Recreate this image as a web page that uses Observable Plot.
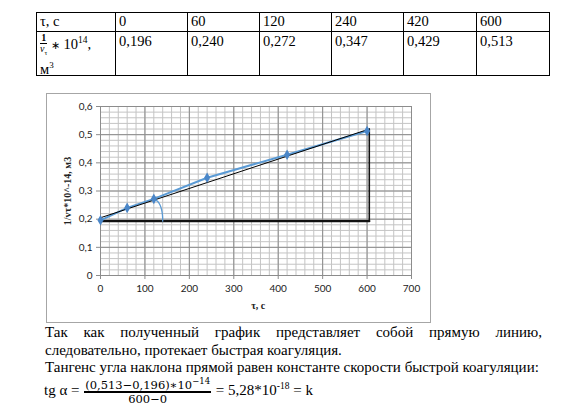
<!DOCTYPE html>
<html><head><meta charset="utf-8">
<script src="https://cdn.jsdelivr.net/npm/d3@7"></script>
<script src="https://cdn.jsdelivr.net/npm/@observablehq/plot@0.6"></script>
<style>
body{margin:0;width:585px;height:405px;background:#fff;position:relative;overflow:hidden;font-family:"Liberation Serif","Times New Roman",serif;color:#000}
table{position:absolute;left:36px;top:12px;border-collapse:collapse;font-size:14.5px;table-layout:fixed}
td{border:1px solid #000;vertical-align:top;padding:0 3px;line-height:16px}
.frac{display:inline-block;vertical-align:middle;text-align:center;font-size:10px;line-height:11px}
.frac .n{border-bottom:1px solid #000;padding:0 1px;font-weight:bold}
#chartbox{position:absolute;left:46px;top:93px;width:383px;height:228px;border:1px solid #a6a6a6}
#text{position:absolute;left:45px;top:324px;width:497px;font-size:15px;line-height:17.5px;text-align:justify}
#formula{position:absolute;left:44px;top:378px;height:24px;font-size:15px;white-space:pre;display:flex;align-items:center}
.ff{display:flex;flex-direction:column;align-items:center;font-family:"DejaVu Serif",serif;font-size:11.5px;margin:0 1px}
.ff .n{border-bottom:2px solid #000;padding:0 1px;line-height:14px}
.ff .d{line-height:13px}
</style></head>
<body>
<table>
<colgroup><col style="width:79px"><col style="width:72px"><col style="width:72px"><col style="width:72px"><col style="width:72px"><col style="width:73px"><col style="width:73px"></colgroup>
<tr id="r1" style="height:19px"></tr>
<tr id="r2" style="height:44px"></tr>
</table>
<div id="chartbox"></div>
<div id="text">Так как полученный график представляет собой прямую линию, следовательно, протекает быстрая коагуляция.<br>Тангенс угла наклона прямой равен константе скорости быстрой коагуляции:</div>
<div id="formula"><span>tg α = </span><span class="ff"><span class="n">(0,513−0,196)∗10<sup style="font-size:8.5px">−14</sup></span><span class="d">600−0</span></span><span> = 5,28*10<sup style="font-size:9.5px">-18</sup> = k</span></div>
<script>
// Data
const times = [0, 60, 120, 240, 420, 600];
const invV = [0.196, 0.240, 0.272, 0.347, 0.429, 0.513];
const invVLabels = ["0,196", "0,240", "0,272", "0,347", "0,429", "0,513"];
const xTicks = [0, 100, 200, 300, 400, 500, 600, 700];
const yTicks = [0, 0.1, 0.2, 0.3, 0.4, 0.5, 0.6];
const xTitle = "τ, с";
const yTitle = "1/vτ*10^-14, м3";
// Hand-drawn annotations (data units)
const trendX = [0, 605];
const trendY = [0.205, 0.52];
const baseX = [0, 605];
const baseY = [0.193, 0.193];
const vertX = [605, 605];
const vertY = [0.193, 0.52];
const arcX = [118, 129, 134, 137.5, 139.5, 140];
const arcY = [0.274, 0.263, 0.25, 0.234, 0.214, 0.193];

// Table
const r1 = document.getElementById("r1");
const r2 = document.getElementById("r2");
r1.innerHTML = "<td>τ, с</td>" + times.map(t => `<td>${t}</td>`).join("");
r2.innerHTML = `<td style="line-height:12px"><span class="frac"><span class="n">1</span><br><i>v</i><sub style="font-size:7px">τ</sub></span> <span style="font-size:11px">∗</span> 10<sup style="font-size:9.5px">14</sup>,<br>м<sup style="font-size:9px">3</sup></td>` + invVLabels.map(v => `<td style="padding-top:1px">${v}</td>`).join("");

const pts = times.map((t, i) => ({t, v: invV[i]}));
const toRows = (xs, ys) => xs.map((x, i) => ({x, y: ys[i]}));
const minorX = d3.range(0, 701, 20);
const minorY = d3.range(0, 0.6001, 0.02);
const fmt = d => String(Math.round(d * 10) / 10).replace(".", ",");

const chart = Plot.plot({
  width: 383, height: 228,
  marginLeft: 53, marginRight: 19, marginTop: 12, marginBottom: 47,
  style: {fontFamily: "Lato, 'Liberation Sans', sans-serif", fontSize: "10px", color: "#222", background: "transparent"},
  x: {domain: [0, 700]},
  y: {domain: [0, 0.6]},
  marks: [
    Plot.ruleX(minorX, {stroke: "#c4c4c4", strokeWidth: 1}),
    Plot.ruleY(minorY, {stroke: "#c4c4c4", strokeWidth: 1}),
    Plot.ruleX(xTicks, {stroke: "#8c8c8c", strokeWidth: 1}),
    Plot.ruleY(yTicks, {stroke: "#8c8c8c", strokeWidth: 1}),
    Plot.axisX({ticks: xTicks, tickFormat: d => String(d), tickSize: 4, tickPadding: 5, stroke: "#8c8c8c", fill: "#222", label: null}),
    Plot.axisY({ticks: yTicks, tickFormat: fmt, tickSize: 4, tickPadding: 4, stroke: "#8c8c8c", fill: "#222", label: null}),
    Plot.line(toRows(baseX, baseY), {x: "x", y: "y", stroke: "#111", strokeWidth: 2.2}),
    Plot.line(toRows(vertX, vertY), {x: "x", y: "y", stroke: "#111", strokeWidth: 1.6}),
    Plot.line(pts, {x: "t", y: "v", stroke: "#5b9bd5", strokeWidth: 2}),
    Plot.line(toRows(trendX, trendY), {x: "x", y: "y", stroke: "#000", strokeWidth: 1}),
    Plot.line(toRows(arcX, arcY), {x: "x", y: "y", stroke: "#5b9bd5", strokeWidth: 1.3, curve: "catmull-rom"}),
    Plot.dot(pts, {x: "t", y: "v", symbol: "diamond", r: 3.2, fill: "#4a86c8", stroke: "none"}),
    Plot.text([{x: 355, y: 0}], {x: "x", y: "y", text: () => xTitle, dy: 30, fontFamily: "Liberation Serif", fontWeight: "bold", fontSize: 10, fill: "#222"}),
    Plot.text([{x: 0, y: 0.3}], {x: "x", y: "y", text: () => yTitle, rotate: -90, dx: -33, fontFamily: "Liberation Serif", fontWeight: "bold", fontSize: 10, fill: "#222"})
  ]
});
document.getElementById("chartbox").appendChild(chart);
</script>
</body></html>
